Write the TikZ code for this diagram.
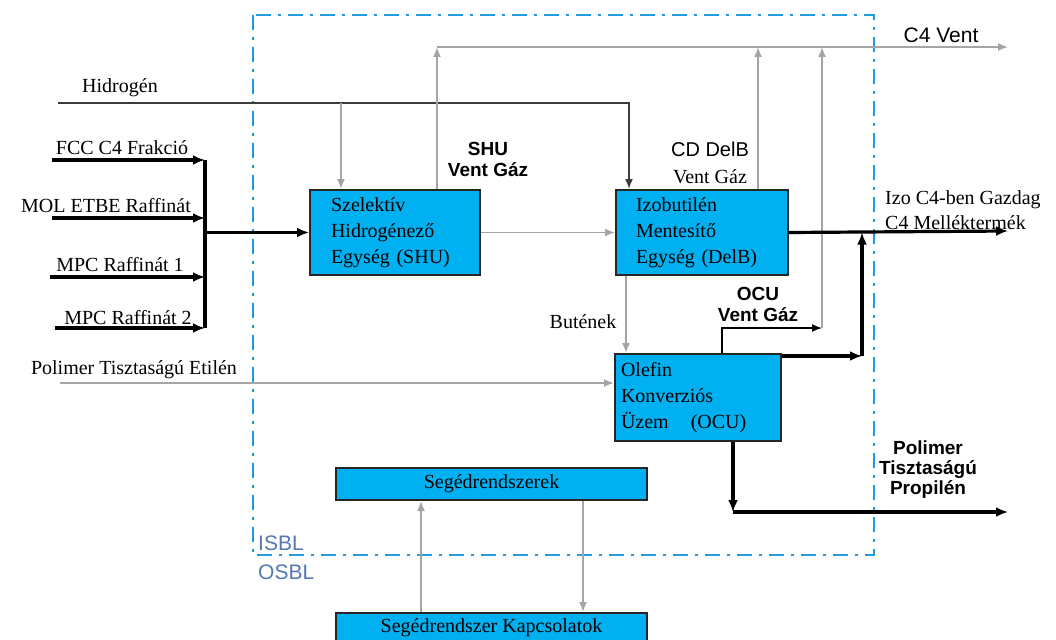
\documentclass[tikz,border=0pt]{standalone}
\usepackage{fontspec}
\setmainfont{Liberation Serif}
\setsansfont{Liberation Sans}
\usetikzlibrary{arrows.meta, positioning}
\definecolor{unitblue}{RGB}{0,176,240}
\definecolor{islblue}{RGB}{30,155,225}
\definecolor{blfont}{RGB}{85,120,180}
\definecolor{flowgray}{RGB}{165,165,165}
\definecolor{h2gray}{RGB}{60,60,60}

\begin{document}
\begin{tikzpicture}[x=1pt, y=-1pt,
        unit/.style={draw=black!85, fill=unitblue, line width=2pt, inner ysep=0pt, align=left, font=\fontsize{20}{26}\selectfont},
        stream/.style={font=\fontsize{20}{25}\selectfont, inner sep=0pt, align=left},
        sanstext/.style={font=\sffamily\fontsize{21}{26}\selectfont, inner sep=0pt},
        boldtext/.style={font=\sffamily\bfseries\fontsize{19}{21}\selectfont, inner sep=0pt, align=center},
        tip/.style={-{Latex[length=10pt,width=8pt]}},
        lightflow/.style={tip, draw=flowgray, line width=1.6pt},
        h2flow/.style={tip, draw=h2gray, line width=1.6pt},
        mainflow/.style={-{Latex[length=12pt,width=10pt]}, line width=3.2pt}
    ]
        \useasboundingbox (0,0) rectangle (1056,639);
        % battery limit
        \draw[islblue, line width=2.5pt, dash pattern=on 15pt off 7pt on 3pt off 7pt] (253,15) rectangle (874,555);
        \node[sanstext, anchor=west, text=blfont] (isbl) at (258,543) {ISBL};
        \node[sanstext, anchor=west, text=blfont] (osbl) at (258,572) {OSBL};

        % units
        \node[unit, anchor=north west, inner xsep=21pt, text width=128pt, minimum height=85pt] (shu) at (309,189) {Szelektív\\Hidrogénező\\Egység (SHU)};
        \node[unit, anchor=north west, inner xsep=20pt, text width=132pt, minimum height=85pt] (delb) at (615,189) {Izobutilén\\Mentesítő\\Egység (DelB)};
        \node[unit, anchor=north west, inner xsep=6pt, text width=154pt, minimum height=87pt] (ocu) at (614,353) {Olefin\\Konverziós\\Üzem\hspace{22pt}(OCU)};
        \node[unit, align=center, inner xsep=0pt, minimum width=311pt, minimum height=32pt] (seged) at (491.5,484) {Segédrendszerek};
        \node[unit, align=center, anchor=north, inner xsep=0pt, minimum width=311pt, minimum height=30pt] (kapcs) at (491.5,612) {Segédrendszer Kapcsolatok};

        % stream labels
        \node[stream] (h2) at (120,88) {Hidrogén};
        \node[stream] (fcclab) at (122,148) {FCC C4 Frakció};
        \node[stream] (mollab) at (106,206) {MOL ETBE Raffinát};
        \node[stream] (mpc1lab) at (120,265) {MPC Raffinát 1};
        \node[stream] (mpc2lab) at (128,318) {MPC Raffinát 2};
        \node[stream] (etilab) at (134,370) {Polimer Tisztaságú Etilén};
        \node[boldtext] (shuvent) at (488,159) {SHU\\Vent Gáz};
        \node[stream, align=center, font=\fontsize{20}{27}\selectfont] (delbvent) at (710,163) {{\sffamily CD DelB}\\Vent Gáz};
        \node[boldtext] (ocuvent) at (758,304) {OCU\\Vent Gáz};
        \node[stream] (butlab) at (583,322) {Butének};
        \node[sanstext] (c4lab) at (941,35) {C4 Vent};
        \node[stream, anchor=west] (izolab) at (885,210) {Izo C4-ben Gazdag\\C4 Melléktermék};
        \node[boldtext, font=\sffamily\bfseries\fontsize{19}{20}\selectfont] (proplab) at (928,470) {Polimer\\Tisztaságú\\Propilén};

        % free ends
        \coordinate (h2in) at (58,103);
        \coordinate (fcc) at (52,160);
        \coordinate (mol) at (52,218);
        \coordinate (mpc1) at (50,277);
        \coordinate (mpc2) at (55,328);
        \coordinate (bustop) at (205,160);
        \coordinate (busbot) at (205,328);
        \coordinate (etin) at (60,383);
        \coordinate (c4out) at (1008,47);
        \coordinate (izoout) at (1008,231);
        \coordinate (ocujoin) at (862,356);
        \coordinate (ventjoin) at (822,328);
        \coordinate (propout) at (1008,512);

        % feeds
        \draw[mainflow] (fcc) -- (fcc -| bustop);
        \draw[mainflow] (mol) -- (mol -| bustop);
        \draw[mainflow] (mpc1) -- (mpc1 -| bustop);
        \draw[mainflow] (mpc2) -- (mpc2 -| bustop);
        \draw[line width=3.2pt] (bustop) -- (busbot);
        \draw[mainflow] (bustop |- shu.west) -- (shu.west);
        \draw[h2flow] (h2in) -| ([xshift=14pt]delb.north west);
        \draw[lightflow] ([xshift=32pt]shu.north west |- h2in) -- ([xshift=32pt]shu.north west);
        \draw[lightflow] (etin) -- (etin -| ocu.west);

        % vents
        \draw[lightflow] ([xshift=128pt]shu.north west) -- ([xshift=128pt]shu.north west |- c4out);
        \draw[lightflow] ([xshift=128pt]shu.north west |- c4out) -- (c4out);
        \draw[lightflow] ([xshift=143pt]delb.north west) -- ([xshift=143pt]delb.north west |- c4out);
        \draw[tip, line width=1.4pt] ([xshift=108pt]ocu.north west) |- (ventjoin);
        \draw[lightflow] (ventjoin) -- (ventjoin |- c4out);

        % process
        \draw[lightflow] (shu.east) -- (delb.west);
        \draw[lightflow] ([xshift=11pt]delb.south west) -- ([xshift=11pt]delb.south west |- ocu.north);
        \draw[mainflow] (delb.east) -- (izoout);
        \draw[mainflow] (ocu.east |- ocujoin) -- (ocujoin);
        \draw[mainflow] (ocujoin) -- (ocujoin |- delb.east);
        \draw[mainflow] ([xshift=119pt]ocu.south west) -- ([xshift=119pt]ocu.south west |- propout);
        \draw[mainflow] ([xshift=119pt]ocu.south west |- propout) -- (propout);

        % utilities
        \draw[lightflow] ([xshift=86pt]kapcs.north west) -- ([xshift=86pt]kapcs.north west |- seged.south);
        \draw[lightflow] ([xshift=248pt]seged.south west) -- ([xshift=248pt]seged.south west |- kapcs.north);
    \end{tikzpicture}
\end{document}
